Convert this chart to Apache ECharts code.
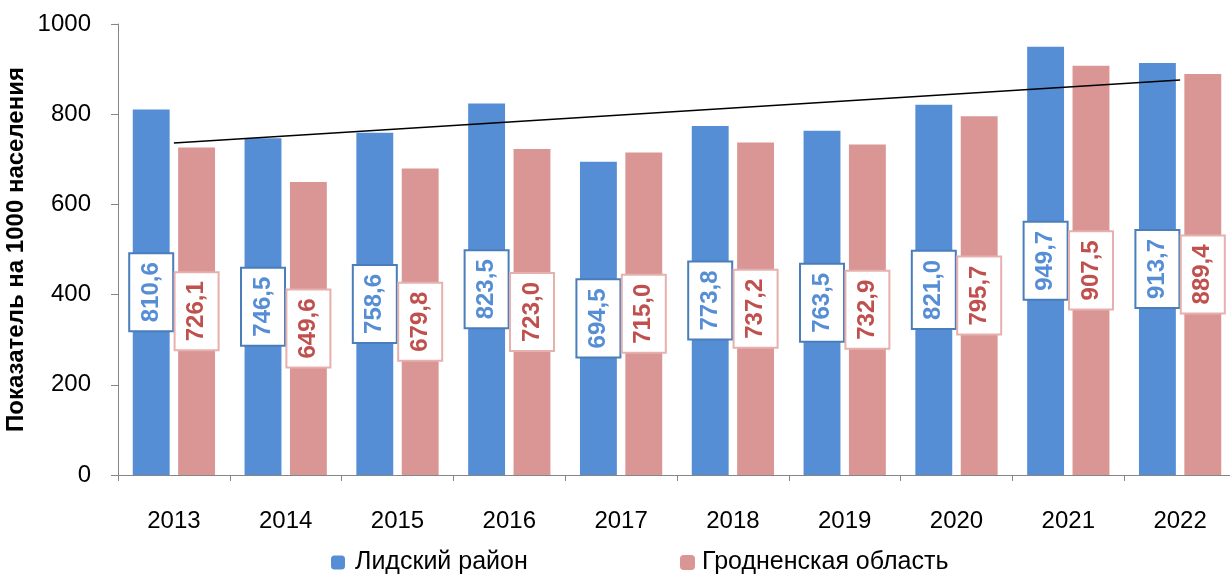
<!DOCTYPE html>
<html>
<head>
<meta charset="utf-8">
<script src="https://cdn.jsdelivr.net/npm/echarts@6/dist/echarts.min.js"></script>
<style>
  html, body { margin: 0; padding: 0; background: #fff; }
  #chart { width: 1230px; height: 575px; }
</style>
</head>
<body>
<div id="chart"></div>
<script>
// годы
var years = ['2013', '2014', '2015', '2016', '2017', '2018', '2019', '2020', '2021', '2022']
// Лидский район
var lidaValues = [810.6, 746.5, 758.6, 823.5, 694.5, 773.8, 763.5, 821.0, 949.7, 913.7]
// Гродненская область
var grodnoValues = [726.1, 649.6, 679.8, 723.0, 715.0, 737.2, 732.9, 795.7, 907.5, 889.4]
// линия тренда: значения на первом и последнем году
var trendEnds = [736, 876]

var seriesNames = ['Лидский район', 'Гродненская область']
var font = '"Liberation Sans", "DejaVu Sans", sans-serif'

// данные линии тренда: только концы, середина соединяется
var trendData = years.map(function(y, i) {
  if (i === 0) return trendEnds[0]
  if (i === years.length - 1) return trendEnds[1]
  return null
})

function fmt(v) {
  return v.toFixed(1).replace('.', ',')
}

var chart = echarts.init(document.getElementById('chart'))

chart.setOption({
  animation: false,
  textStyle: { fontFamily: font },
  grid: {
    left: 118,
    right: -6,
    top: 24,
    bottom: 100,
    containLabel: false,
    outerBoundsMode: 'none'
  },
  legend: [
    {
      data: [seriesNames[0]],
      left: 326,
      top: 545,
      itemWidth: 14,
      itemHeight: 14,
      textStyle: { fontSize: 25, color: '#000', fontFamily: font, padding: [0, 0, 0, 5] }
    },
    {
      data: [seriesNames[1]],
      left: 675,
      top: 545,
      itemWidth: 15,
      itemHeight: 15,
      textStyle: { fontSize: 25, color: '#000', fontFamily: font, padding: [0, 0, 0, 2] }
    }
  ],
  xAxis: {
    type: 'category',
    data: years,
    axisLine: { lineStyle: { color: '#868686', width: 1 } },
    axisTick: { show: true, length: 6, alignWithLabel: false, lineStyle: { color: '#868686' } },
    axisLabel: { fontSize: 24, color: '#000', margin: 34 },
    splitLine: { show: false }
  },
  yAxis: {
    type: 'value',
    min: 0,
    max: 1000,
    interval: 200,
    name: 'Показатель на 1000 населения',
    nameLocation: 'middle',
    nameGap: 90,
    nameMoveOverlap: false,
    nameTextStyle: { fontSize: 24, fontWeight: 'bold', color: '#000' },
    axisLine: { show: true, lineStyle: { color: '#868686', width: 1 } },
    axisTick: { show: true, length: 7, lineStyle: { color: '#868686' } },
    axisLabel: {
      fontSize: 24,
      color: '#000',
      margin: 27,
      formatter: function(v) { return String(v) }
    },
    splitLine: { show: false }
  },
  series: [
    {
      name: seriesNames[0],
      type: 'bar',
      data: lidaValues,
      barWidth: '33%',
      barGap: '23%',
      itemStyle: { color: '#558ED5' },
      label: {
        show: true,
        position: 'inside',
        rotate: 90,
        formatter: function(p) { return fmt(p.value) },
        fontSize: 24,
        fontWeight: 'bold',
        color: '#558ED5',
        backgroundColor: '#fff',
        borderColor: '#4A7EBB',
        borderWidth: 2,
        padding: [8, 8, 8, 8],
        lineHeight: 26
      }
    },
    {
      name: seriesNames[1],
      type: 'bar',
      data: grodnoValues,
      barWidth: '33%',
      itemStyle: { color: '#D99694' },
      label: {
        show: true,
        position: 'inside',
        rotate: 90,
        formatter: function(p) { return fmt(p.value) },
        fontSize: 24,
        fontWeight: 'bold',
        color: '#C0504D',
        backgroundColor: '#fff',
        borderColor: '#E6B0AE',
        borderWidth: 2,
        padding: [8, 8, 8, 8],
        lineHeight: 26
      }
    },
    {
      name: 'тренд',
      type: 'line',
      data: trendData,
      connectNulls: true,
      symbol: 'none',
      z: 5,
      lineStyle: { color: '#000', width: 1.5 }
    }
  ]
})
</script>
</body>
</html>
